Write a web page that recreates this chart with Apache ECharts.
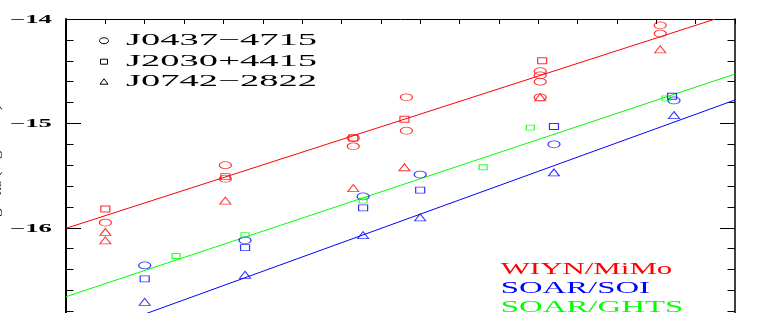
<!DOCTYPE html>
<html>
<head>
<meta charset="utf-8">
<script src="https://cdn.jsdelivr.net/npm/echarts@6/dist/echarts.min.js"></script>
<style>
html,body{margin:0;padding:0;background:#fff;}
#chart{width:777px;height:313px;}
</style>
</head>
<body>
<div id="chart"></div>
<script>
// ---- data ----
// x: arbitrary abscissa units (axis labels not visible in the reference)
// y: log flux
const yTickValues = [-14, -15, -16];
const yTickLabels = ['\u221214', '\u221215', '\u221216'];

const pulsarNames = ['J0437\u22124715', 'J2030+4415', 'J0742\u22122822'];
const instrumentNames = ['WIYN/MiMo', 'SOAR/SOI', 'SOAR/GHTS'];

// WIYN/MiMo (red)
const wiynJ0437 = [[0.20,-15.95],[0.81,-15.40],[0.81,-15.53],[1.46,-15.14],[1.46,-15.22],[1.73,-14.75],[1.73,-15.07],[2.41,-14.50],[2.41,-14.54],[2.41,-14.60],[2.41,-14.75],[3.02,-14.06],[3.02,-14.14]];
const wiynJ2030 = [[0.20,-15.82],[0.81,-15.51],[1.46,-15.14],[1.72,-14.96],[2.42,-14.40]];
const wiynJ0742 = [[0.20,-16.04],[0.20,-16.12],[0.81,-15.74],[1.46,-15.62],[1.72,-15.42],[2.41,-14.75],[3.02,-14.29]];
// SOAR/SOI (blue)
const soiJ0437 = [[0.40,-16.36],[0.91,-16.12],[1.51,-15.70],[1.80,-15.49],[2.48,-15.20],[3.09,-14.78]];
const soiJ2030 = [[0.40,-16.49],[0.91,-16.19],[1.51,-15.81],[1.80,-15.64],[2.48,-15.03],[3.08,-14.74]];
const soiJ0742 = [[0.40,-16.71],[0.91,-16.45],[1.51,-16.07],[1.80,-15.90],[2.48,-15.47],[3.09,-14.92]];
// SOAR/GHTS (green)
const ghtsJ2030 = [[0.56,-16.27],[0.91,-16.07],[1.51,-15.74],[2.12,-15.42],[2.36,-15.04],[3.05,-14.76]];

// fitted lines
const wiynFit = [[0,-16.005],[3.3,-14.0]];
const soiFit = [[0.3,-16.895],[3.4,-14.776]];
const ghtsFit = [[0,-16.66],[3.4,-14.527]];

// ---- styling ----
const RED = '#ff0000', BLUE = '#0000ff', GREEN = '#00ff00';
const SERIF = '"Liberation Serif","DejaVu Serif",serif';

function scat(name, data, symbol, size, color) {
  return {
    type: 'scatter', name: name, data: data, symbol: symbol, symbolSize: size,
    itemStyle: { color: 'rgba(0,0,0,0)', borderColor: color, borderWidth: 1 },
    emphasis: { disabled: true }, silent: true, z: 3
  };
}
function fit(name, data, color) {
  return {
    type: 'line', name: name, data: data, symbol: 'none', clip: true,
    lineStyle: { color: color, width: 1 }, emphasis: { disabled: true }, silent: true, z: 2
  };
}

const CIRC = [12, 7], SQ = [9, 6], TRI = [11, 7], GSQ = [8, 5];

const tickCommon = { lineStyle: { color: '#000', width: 1 } };

const option = {
  animation: false,
  backgroundColor: '#ffffff',
  grid: { left: 66, right: 42, top: 19, height: 313.2, outerBoundsMode: 'none', containLabel: false },
  xAxis: {
    type: 'value', position: 'top', min: 0, max: 3.4, interval: 0.2,
    axisLine: { show: true, onZero: false, lineStyle: { color: '#000', width: 1 } },
    axisTick: { show: true, inside: true, length: 5, lineStyle: { color: '#000', width: 1 } },
    axisLabel: { show: false }, splitLine: { show: false }
  },
  yAxis: [
    {
      type: 'value', position: 'left', min: -17, max: -14, interval: 1,
      axisLine: { show: true, onZero: false, lineStyle: { color: '#000', width: 2 } },
      axisTick: Object.assign({ show: true, inside: true, length: 15 }, tickCommon),
      minorTick: Object.assign({ show: true, splitNumber: 5, length: 7.5 }, tickCommon),
      axisLabel: { show: false }, splitLine: { show: false }, minorSplitLine: { show: false }
    },
    {
      type: 'value', position: 'right', min: -17, max: -14, interval: 1,
      axisLine: { show: true, onZero: false, lineStyle: { color: '#000', width: 1.5 } },
      axisTick: Object.assign({ show: true, inside: true, length: 15 }, tickCommon),
      minorTick: Object.assign({ show: true, splitNumber: 5, length: 7.5 }, tickCommon),
      axisLabel: { show: false }, splitLine: { show: false }, minorSplitLine: { show: false }
    }
  ],
  series: [
    fit('WIYN/MiMo fit', wiynFit, RED),
    fit('SOAR/SOI fit', soiFit, BLUE),
    fit('SOAR/GHTS fit', ghtsFit, GREEN),
    scat('WIYN J0437', wiynJ0437, 'circle', CIRC, RED),
    scat('WIYN J2030', wiynJ2030, 'rect', SQ, RED),
    scat('WIYN J0742', wiynJ0742, 'triangle', TRI, RED),
    scat('SOI J0437', soiJ0437, 'circle', CIRC, BLUE),
    scat('SOI J2030', soiJ2030, 'rect', SQ, BLUE),
    scat('SOI J0742', soiJ0742, 'triangle', TRI, BLUE),
    scat('GHTS J2030', ghtsJ2030, 'rect', GSQ, GREEN)
  ]
};

const chart = echarts.init(document.getElementById('chart'), null, { renderer: 'canvas' });
chart.setOption(option);

// ---- text elements (stretched to match the wide plotting font) ----
const mctx = document.createElement('canvas').getContext('2d');
function measure(text, font) { mctx.font = font; return mctx.measureText(text).width; }

function wideText(text, x, y, targetW, size, color, weight, align) {
  const font = (weight || 'normal') + ' ' + size + 'px ' + SERIF;
  const w = measure(text, font);
  return {
    type: 'text', x: x, y: y, scaleX: targetW / w, scaleY: 1, silent: true, z: 10,
    style: {
      text: text, fill: color, fontFamily: SERIF, fontSize: size, fontWeight: weight || 'normal',
      textAlign: align || 'left', textVerticalAlign: 'middle'
    }
  };
}

const graphics = [];
// tick labels on the left axis
yTickValues.forEach(function (v, i) {
  const py = chart.convertToPixel({ yAxisIndex: 0 }, v);
  graphics.push(wideText(yTickLabels[i], 52, py + 0.8, 42, 11.5, '#000', 'bold', 'right'));
});

// pulsar legend (top-left)
const legY = [40.7, 61.7, 81.7];
pulsarNames.forEach(function (n, i) {
  graphics.push(wideText(n, 126, legY[i], 191, 17.5, '#000', 'normal', 'left'));
});
graphics.push({ type: 'ellipse', shape: { cx: 104, cy: legY[0], rx: 4.5, ry: 3 }, style: { fill: 'none', stroke: '#000', lineWidth: 1 }, silent: true, z: 10 });
graphics.push({ type: 'rect', shape: { x: 100.5, y: legY[1] - 2.5, width: 7, height: 5 }, style: { fill: 'none', stroke: '#000', lineWidth: 1 }, silent: true, z: 10 });
graphics.push({ type: 'polygon', shape: { points: [[104, legY[2] - 3], [100, legY[2] + 2.5], [108, legY[2] + 2.5]] }, style: { fill: 'none', stroke: '#000', lineWidth: 1 }, silent: true, z: 10 });

// instrument legend (bottom-right)
const instY = [269, 288.3, 307.3];
const instW = [171.6, 149.3, 182.6];
const instC = [RED, BLUE, GREEN];
instrumentNames.forEach(function (n, i) {
  graphics.push(wideText(n, 500.7, instY[i], instW[i], 17.5, instC[i], 'normal', 'left'));
});

// y-axis title (mostly cropped at the left edge)
(function () {
  const font = 'normal 15px ' + SERIF;
  const t1 = 'log F', t2 = 'H\u03b1', t3 = ' (erg/cm\u00b2/s)';
  const w = measure(t1, font) + measure(t2, 'normal 10px ' + SERIF) + measure(t3, font);
  graphics.push({
    type: 'text', x: 3, y: 167, rotation: Math.PI / 2, scaleX: 125 / w, silent: true, z: 10,
    style: {
      text: '{a|' + t1 + '}{b|' + t2 + '}{a|' + t3 + '}',
      textAlign: 'center', textVerticalAlign: 'bottom', fill: '#000',
      rich: {
        a: { fontFamily: SERIF, fontSize: 15, fill: '#000' },
        b: { fontFamily: SERIF, fontSize: 10, fill: '#000', verticalAlign: 'bottom' }
      }
    }
  });
})();

chart.setOption({ graphic: { elements: graphics } });
</script>
</body>
</html>
